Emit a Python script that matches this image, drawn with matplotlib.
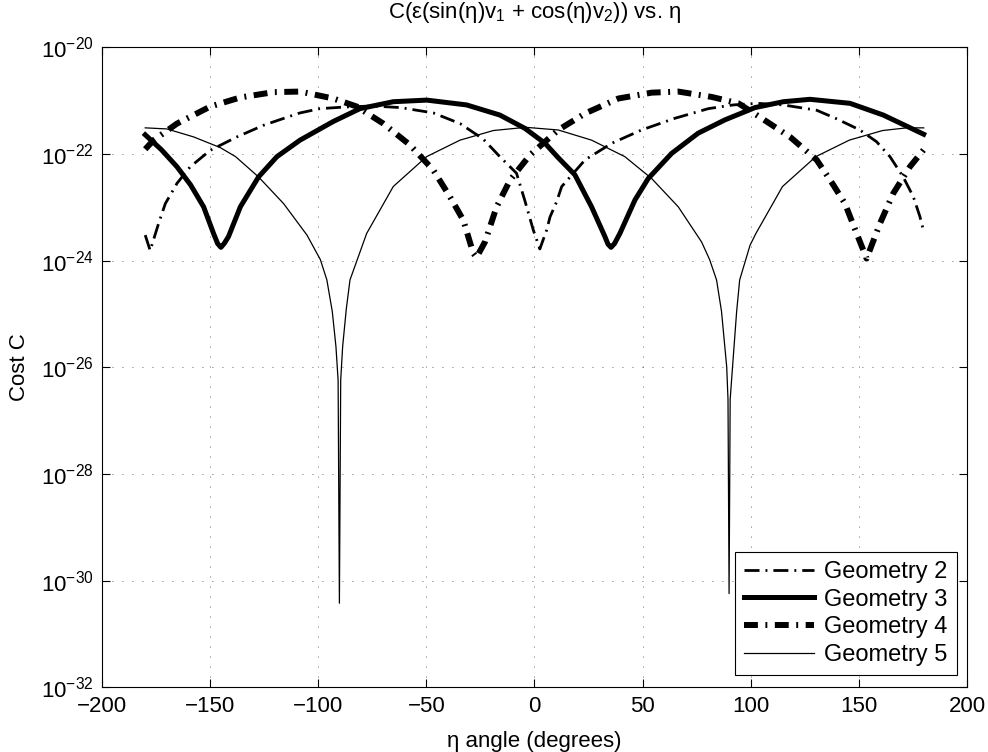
import numpy as np
import matplotlib
matplotlib.use("Agg")
import matplotlib.pyplot as plt
from matplotlib.ticker import NullLocator

plt.rcParams['font.family'] = ['Liberation Sans', 'DejaVu Sans']
plt.rcParams['mathtext.fontset'] = 'custom'
plt.rcParams['mathtext.rm'] = 'Liberation Sans'
plt.rcParams['mathtext.it'] = 'Liberation Sans'
plt.rcParams['mathtext.default'] = 'regular'
plt.rcParams['lines.scale_dashes'] = False

# eta (degrees) and log10(cost)
eta_g2 = [-180, -177.7, -173.8, -170.7, -165.3, -159.2, -149.9, -137.6, -125.2, -112.9,
          -108.4, -99.2, -88, -75, -62, -46.8, -34.4, -23.7, -16.0, -8.3, -4.4, -0.5,
          2.5, 5.6, 7.2, 10.2, 12.6, 23.4, 35.7, 49.5, 65.0, 80.4, 92, 103, 115,
          130.5, 139.7, 150.5, 158.2, 164.4, 170.5, 175.2, 178.3, 180]
log_g2 = [-23.52, -23.81, -23.30, -22.93, -22.55, -22.24, -21.93, -21.68, -21.46, -21.29,
          -21.23, -21.15, -21.12, -21.10, -21.13, -21.23, -21.43, -21.72, -22.05, -22.36,
          -22.88, -23.43, -23.78, -23.43, -23.18, -22.90, -22.61, -22.11, -21.80, -21.55,
          -21.33, -21.15, -21.08, -21.05, -21.08, -21.18, -21.34, -21.55, -21.77, -22.05,
          -22.43, -22.80, -23.18, -23.45]

eta_g3 = [-180, -172.5, -165.3, -159, -153.0, -148.4, -146.5, -145.0, -143.5, -141.5,
          -136.0, -127.6, -119.1, -108.4, -93.0, -80.7, -65.3, -49.8, -31.4, -16.0,
          -4.4, 4.9, 11, 18.7, 26.4, 32.6, 34, 35.4, 37, 39.5, 46.5, 52.6, 63.4, 75.7,
          88.1, 102.0, 115.1, 127.4, 145.9, 161.3, 180]
log_g3 = [-21.64, -21.92, -22.24, -22.58, -22.99, -23.49, -23.68, -23.75, -23.68, -23.55,
          -22.99, -22.43, -22.05, -21.74, -21.39, -21.15, -21.02, -20.99, -21.08, -21.27,
          -21.52, -21.80, -22.07, -22.39, -22.99, -23.55, -23.69, -23.75, -23.68, -23.49,
          -22.86, -22.46, -21.99, -21.61, -21.36, -21.13, -21.02, -20.975, -21.05, -21.27,
          -21.63]

eta_g4 = [-180, -176.1, -165.3, -149.9, -136.0, -120.6, -108.4, -93.0, -82.2, -69.9,
          -57.6, -46.8, -39.1, -32.9, -28.3, -26.8, -22.9, -17.5, -11.3, -2.1, 11.0,
          23.4, 38.8, 54.2, 66.5, 81.9, 94.3, 104.3, 118.2, 130.5, 138.2, 143.6, 149.0,
          153.6, 159.8, 165.9, 173.6, 180]
log_g4 = [-21.91, -21.74, -21.43, -21.11, -20.94, -20.84, -20.83, -20.96, -21.11, -21.43,
          -21.83, -22.30, -22.80, -23.24, -23.86, -23.94, -23.65, -22.99, -22.49, -22.02,
          -21.55, -21.24, -20.96, -20.85, -20.83, -20.93, -21.05, -21.31, -21.68, -22.11,
          -22.58, -22.93, -23.49, -23.96, -23.30, -22.74, -22.24, -21.92]

eta_g5 = [-180, -170, -157.6, -145.3, -138.2, -127.6, -116.0, -105.2, -99, -96.0, -93.5,
          -91.8, -90.8, -90.2, -89.6, -88.7, -87.0, -85.3, -77.6, -65.3, -49.9, -34.4,
          -19.0, -4.0, 11.0, 26.4, 41.8, 54.2, 66.5, 77.3, 81, 84.2, 86.5, 88.9, 89.5,
          90.0, 90.5, 91.6, 93.5, 94.9, 99.7, 102.4, 114.7, 130.1, 145.6, 161.0, 172.1,
          180]
log_g5 = [-21.51, -21.53, -21.68, -21.88, -22.05, -22.43, -22.93, -23.52, -23.98, -24.36,
          -24.95, -25.61, -26.24, -30.42, -26.24, -25.61, -24.90, -24.36, -23.49, -22.61,
          -22.05, -21.74, -21.56, -21.50, -21.55, -21.74, -22.05, -22.46, -22.99, -23.65,
          -23.98, -24.36, -24.95, -25.99, -26.60, -30.24, -26.60, -25.99, -24.95, -24.36,
          -23.71, -23.49, -22.61, -22.05, -21.74, -21.56, -21.51, -21.51]

labels = ['Geometry 2', 'Geometry 3', 'Geometry 4', 'Geometry 5']
x_ticks = [-200, -150, -100, -50, 0, 50, 100, 150, 200]
y_exps = [-32, -30, -28, -26, -24, -22, -20]

fig = plt.figure(figsize=(9.88, 7.52), dpi=100)
ax = fig.add_axes([0.1032, 0.0858, 0.8755, 0.8513])

ax.plot(eta_g2, 10.0 ** np.array(log_g2), color='k', lw=2.0,
        dashes=(10.8, 4.3, 1.4, 4.3), dash_capstyle='butt', label=labels[0])
ax.plot(eta_g3, 10.0 ** np.array(log_g3), color='k', lw=3.6,
        solid_joinstyle='round', label=labels[1])
ax.plot(eta_g4, 10.0 ** np.array(log_g4), color='k', lw=4.3,
        dashes=(10, 5.4, 1.4, 5.4), dash_capstyle='butt', label=labels[2])
ax.plot(eta_g5, 10.0 ** np.array(log_g5), color='k', lw=0.9, label=labels[3])

ax.set_yscale('log')
ax.set_xlim(-200, 200)
ax.set_ylim(1e-32, 1e-20)
ax.set_xticks(x_ticks)
ax.set_yticks([10.0 ** e for e in y_exps])
ax.yaxis.set_minor_locator(NullLocator())
ax.tick_params(which='both', direction='in', top=True, right=True, length=6,
               width=0.8, labelsize=16, pad=6)
for s in ax.spines.values():
    s.set_linewidth(0.8)
ax.grid(True, color='#333333', lw=0.6, linestyle=(0, (0.6, 6.6)))

ax.set_xlabel('η angle (degrees)', fontsize=16, labelpad=10)
ax.set_ylabel('Cost C', fontsize=16, labelpad=8)
ax.set_title('C(ε(sin(η)v$_1$ + cos(η)v$_2$)) vs. η', fontsize=16, pad=21)

leg = ax.legend(loc='lower right', bbox_to_anchor=(0.988, 0.0195), borderaxespad=0,
                fontsize=17, handlelength=2.95, handletextpad=0.45, labelspacing=0.24,
                borderpad=0.38, fancybox=False, framealpha=1, edgecolor='k')
leg.get_frame().set_linewidth(0.8)

fig.savefig('out.png', dpi=100)
